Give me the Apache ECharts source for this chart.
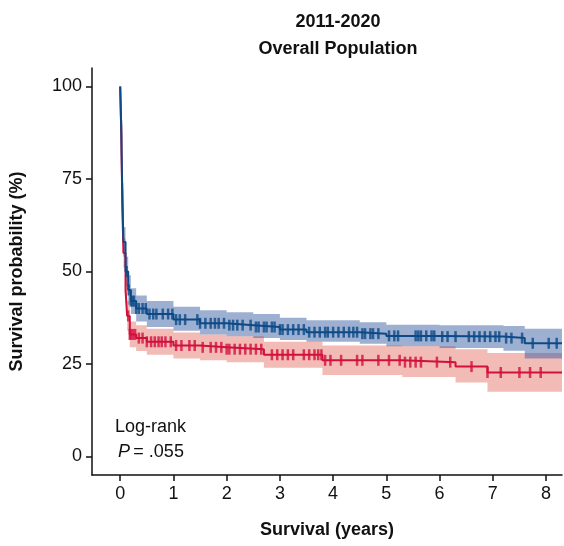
<!DOCTYPE html>
<html lang="en">
<head>
<meta charset="UTF-8">
<script src="https://cdn.jsdelivr.net/npm/echarts@6/dist/echarts.min.js"></script>
<title>2011-2020 Overall Population</title>
</head>
<body style="margin:0">
<div id="main" style="width:564px;height:546px;"></div>
<script type="text/javascript">
var xTicks = [0, 1, 2, 3, 4, 5, 6, 7, 8];
var yTicks = [0, 25, 50, 75, 100];

// step curves: time (years), survival (%), ci low, ci high
var blueT  = [0, 0.02, 0.04, 0.06, 0.1, 0.15, 0.2, 0.3, 0.5, 1.0, 1.5, 2.0, 2.5, 3.0, 3.5, 4.5, 5.0, 6.0, 7.2, 7.6, 8.3];
var blueS  = [100, 88, 70, 58, 50, 45, 42, 40, 38.5, 37, 36, 35.5, 35, 34.3, 33.6, 33.2, 32.6, 32.4, 32.0, 30.6, 30.6];
var blueLo = [100, 85, 66, 54, 46, 41, 38.5, 36.5, 35, 34, 33, 32.5, 32, 31.5, 31, 30.5, 29.8, 29.3, 28.6, 26.5, 26.5];
var blueHi = [100, 91, 74, 62, 54, 49, 45.5, 43.5, 42, 40.5, 39.5, 39, 38.5, 37.5, 36.8, 36.3, 35.6, 35.5, 35.3, 34.5, 34.5];

var redT  = [0, 0.02, 0.04, 0.06, 0.1, 0.13, 0.18, 0.3, 0.5, 1.0, 1.5, 2.0, 2.7, 3.8, 5.3, 6.3, 6.9, 8.3];
var redS  = [100, 87, 68, 55, 45, 38, 33, 32, 31, 30, 29.5, 29, 27.5, 26, 25.5, 24.3, 22.7, 22.7];
var redLo = [100, 84, 64, 51, 41, 34, 29.5, 28.5, 27.5, 26.5, 26, 25.5, 24, 22, 21.5, 20, 17.5, 17.5];
var redHi = [100, 90, 72, 59, 49, 42, 36.5, 35.5, 34.5, 33.5, 33, 32.5, 31, 30, 29.8, 29, 28, 28];

var blueCensor = [0.12,0.16,0.2,0.23,0.26,0.3,0.35,0.42,0.48,0.55,0.62,0.68,0.8,0.9,0.98,1.05,1.12,1.22,1.45,1.5,1.6,1.7,1.78,1.85,1.95,2.05,2.12,2.2,2.3,2.45,2.55,2.6,2.7,2.75,2.85,2.9,3.0,3.05,3.15,3.25,3.35,3.45,3.55,3.65,3.75,3.85,3.9,4.0,4.1,4.2,4.3,4.38,4.45,4.55,4.6,4.7,4.75,4.85,5.05,5.15,5.22,5.55,5.6,5.65,5.75,5.85,5.9,6.05,6.15,6.3,6.55,6.65,6.75,6.85,6.95,7.05,7.12,7.25,7.35,7.55,7.75,8.05,8.2];
var redCensor = [0.15,0.18,0.2,0.24,0.28,0.35,0.42,0.5,0.58,0.65,0.72,0.78,0.85,0.95,1.05,1.15,1.3,1.4,1.55,1.7,1.8,1.9,2.0,2.05,2.15,2.25,2.35,2.45,2.55,2.65,2.85,2.95,3.05,3.15,3.25,3.45,3.55,3.65,3.72,3.78,3.85,3.95,4.15,4.45,4.55,4.85,5.05,5.25,5.35,5.45,5.55,5.65,5.95,6.2,6.6,6.9,7.15,7.5,7.7,7.9];

function stepAt(T, S, t) {
  var v = S[0];
  for (var i = 0; i < T.length; i++) { if (T[i] <= t) v = S[i]; }
  return v;
}
function linePts(T, S) { return T.map(function (t, i) { return [t, S[i]]; }); }
function bandPts(T, Lo, Hi) {
  var out = [];
  for (var i = 0; i < T.length - 1; i++) out.push([T[i], T[i + 1], Lo[i], Hi[i]]);
  return out;
}
function censorPts(C, T, S) { return C.map(function (t) { return [t, stepAt(T, S, t)]; }); }

// one band as a single step polygon
function bandRender(color) {
  return function (params, api) {
    if (params.dataIndex !== 0) return null;
    var n = params.dataInsideLength;
    var top = [], bot = [];
    for (var i = 0; i < n; i++) {
      var a = api.coord([api.value(0, i), api.value(3, i)]);
      var b = api.coord([api.value(1, i), api.value(2, i)]);
      top.push([a[0], a[1]], [b[0], a[1]]);
      bot.push([a[0], b[1]], [b[0], b[1]]);
    }
    return {
      type: 'polygon',
      shape: { points: top.concat(bot.reverse()) },
      style: { fill: color }
    };
  };
}

var blue = '#0b4a86', red = '#d2103c';
var font = 'Liberation Sans';
var myChart = echarts.init(document.getElementById('main'));
var option = {
  animation: false,
  title: {
    text: '2011-2020\nOverall Population',
    left: 333, top: 4, textAlign: 'center',
    textStyle: { fontFamily: font, fontSize: 18, fontWeight: 'bold', color: '#111', lineHeight: 27 }
  },
  grid: { left: 91, right: 2, top: 68, bottom: 71 },
  xAxis: {
    type: 'value', min: -0.53, max: 8.3,
    name: 'Survival (years)', nameLocation: 'middle', nameGap: 46,
    nameTextStyle: { fontFamily: font, fontSize: 18, fontWeight: 'bold', color: '#111' },
    axisLine: { onZero: false, lineStyle: { color: '#111', width: 1.5 } },
    axisTick: { customValues: xTicks, length: 6, lineStyle: { color: '#111', width: 1.5 } },
    axisLabel: { customValues: xTicks, fontFamily: font, fontSize: 18, color: '#111', margin: 10 },
    splitLine: { show: false }
  },
  yAxis: {
    type: 'value', min: -5, max: 105,
    name: 'Survival probability (%)', nameLocation: 'middle', nameGap: 66,
    nameTextStyle: { fontFamily: font, fontSize: 18, fontWeight: 'bold', color: '#111' },
    axisLine: { show: true, onZero: false, lineStyle: { color: '#111', width: 1.5 } },
    axisTick: { show: true, customValues: yTicks, length: 6, lineStyle: { color: '#111', width: 1.5 } },
    axisLabel: { customValues: yTicks, fontFamily: font, fontSize: 18, color: '#111', margin: 10 },
    splitLine: { show: false }
  },
  graphic: [
    { type: 'text', left: 115, top: 418, style: { text: 'Log-rank', font: '18px Liberation Sans', fill: '#111' } },
    { type: 'text', left: 118, top: 443, style: { rich: { i: { fontStyle: 'italic', fontSize: 18, fontFamily: font }, n: { fontSize: 18, fontFamily: font } }, text: '{i|P} {n|= .055}', fill: '#111' } }
  ],
  series: [
    { type: 'custom', renderItem: bandRender('rgba(232,120,110,0.5)'), data: bandPts(redT, redLo, redHi), encode: { x: [0, 1], y: [2, 3] }, z: 1 },
    { type: 'custom', renderItem: bandRender('rgba(40,80,155,0.45)'), data: bandPts(blueT, blueLo, blueHi), encode: { x: [0, 1], y: [2, 3] }, z: 2 },
    { type: 'line', step: 'end', data: linePts(redT, redS), showSymbol: false, lineStyle: { color: red, width: 2 }, z: 3 },
    { type: 'line', step: 'end', data: linePts(blueT, blueS), showSymbol: false, lineStyle: { color: blue, width: 2 }, z: 4 },
    { type: 'scatter', data: censorPts(redCensor, redT, redS), symbol: 'rect', symbolSize: [2.5, 11], itemStyle: { color: red }, z: 5 },
    { type: 'scatter', data: censorPts(blueCensor, blueT, blueS), symbol: 'rect', symbolSize: [2.5, 11], itemStyle: { color: blue }, z: 6 }
  ]
};
myChart.setOption(option);
</script>
</body>
</html>
